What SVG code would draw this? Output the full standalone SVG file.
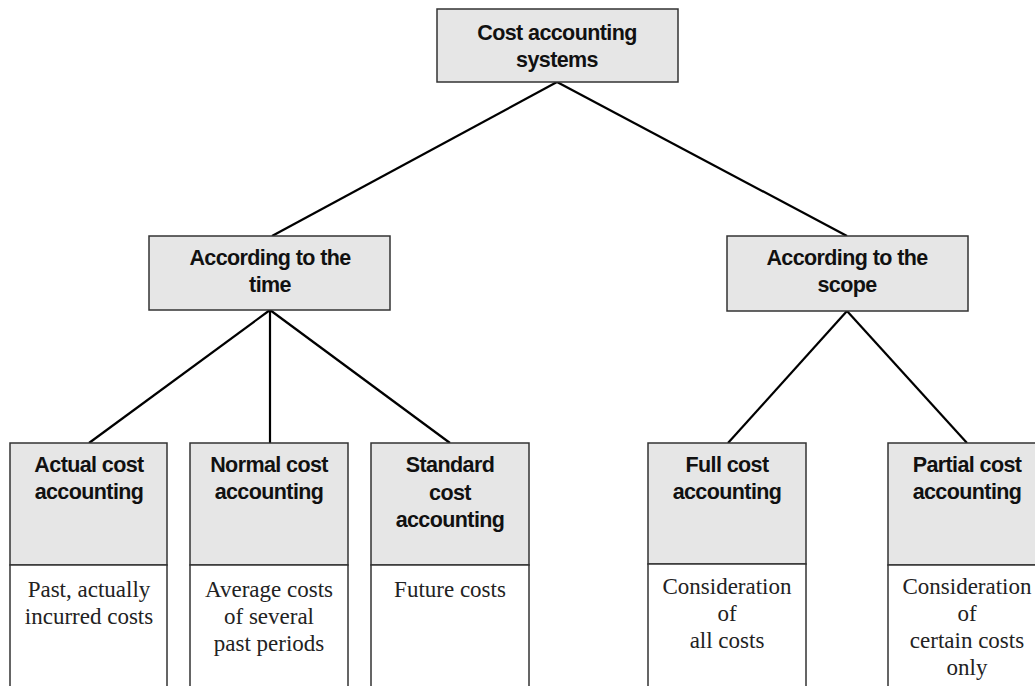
<svg xmlns="http://www.w3.org/2000/svg" width="1035" height="686" viewBox="0 0 1035 686">
<style>
.hd{fill:#e6e6e6;stroke:#333;stroke-width:1.5}
.ds{fill:#fff;stroke:#333;stroke-width:1.5}
.b{font-family:"Liberation Sans",Arial,sans-serif;font-weight:bold;font-size:21.5px;letter-spacing:-0.6px;fill:#111;text-anchor:middle}
.s{font-family:"Liberation Serif","Times New Roman",serif;font-size:23px;fill:#222;text-anchor:middle}
.c line{stroke:#000;stroke-width:2.2}
</style>
<rect width="1035" height="686" fill="#fff"/>
<g class="c" id="connectors">
<line x1="557" y1="82" x2="272" y2="236"/>
<line x1="557" y1="82" x2="847" y2="236"/>
<line x1="270" y1="310" x2="89" y2="443"/>
<line x1="270" y1="310" x2="270" y2="443"/>
<line x1="270" y1="310" x2="450" y2="443"/>
<line x1="847" y1="311" x2="728" y2="443"/>
<line x1="847" y1="311" x2="967" y2="443"/>
</g>
<g id="root">
<rect class="hd" x="437" y="9" width="241" height="73"/>
<text class="b" x="557" y="40">Cost accounting</text>
<text class="b" x="557" y="67">systems</text>
</g>
<g id="time">
<rect class="hd" x="149" y="236" width="241" height="74"/>
<text class="b" x="270" y="265">According to the</text>
<text class="b" x="270" y="292">time</text>
</g>
<g id="scope">
<rect class="hd" x="727" y="236" width="241" height="75"/>
<text class="b" x="847" y="265">According to the</text>
<text class="b" x="847" y="292">scope</text>
</g>
<g id="actual">
<rect class="hd" x="10" y="443" width="157" height="122"/>
<rect class="ds" x="10" y="565" width="157" height="140"/>
<text class="b" x="89" y="472">Actual cost</text>
<text class="b" x="89" y="499">accounting</text>
<text class="s" x="89" y="597">Past, actually</text>
<text class="s" x="89" y="624">incurred costs</text>
</g>
<g id="normal">
<rect class="hd" x="190" y="443" width="158" height="122"/>
<rect class="ds" x="190" y="565" width="158" height="140"/>
<text class="b" x="269" y="472">Normal cost</text>
<text class="b" x="269" y="499">accounting</text>
<text class="s" x="269" y="597">Average costs</text>
<text class="s" x="269" y="624">of several</text>
<text class="s" x="269" y="651">past periods</text>
</g>
<g id="standard">
<rect class="hd" x="371" y="443" width="158" height="122"/>
<rect class="ds" x="371" y="565" width="158" height="140"/>
<text class="b" x="450" y="472">Standard</text>
<text class="b" x="450" y="500">cost</text>
<text class="b" x="450" y="527">accounting</text>
<text class="s" x="450" y="597">Future costs</text>
</g>
<g id="full">
<rect class="hd" x="648" y="443" width="158" height="121"/>
<rect class="ds" x="648" y="564" width="158" height="140"/>
<text class="b" x="727" y="472">Full cost</text>
<text class="b" x="727" y="499">accounting</text>
<text class="s" x="727" y="594">Consideration</text>
<text class="s" x="727" y="621">of</text>
<text class="s" x="727" y="648">all costs</text>
</g>
<g id="partial">
<rect class="hd" x="888" y="443" width="160" height="122"/>
<rect class="ds" x="888" y="565" width="160" height="140"/>
<text class="b" x="967" y="472">Partial cost</text>
<text class="b" x="967" y="499">accounting</text>
<text class="s" x="967" y="594">Consideration</text>
<text class="s" x="967" y="621">of</text>
<text class="s" x="967" y="648">certain costs</text>
<text class="s" x="967" y="675">only</text>
</g>
</svg>
